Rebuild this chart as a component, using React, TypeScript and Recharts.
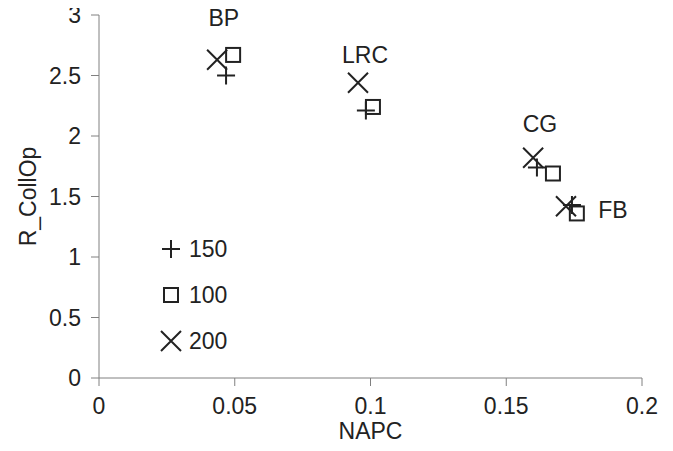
import { ScatterChart, Scatter, XAxis, YAxis } from "recharts";

const xTicks = [0, 0.05, 0.1, 0.15, 0.2];
const yTicks = [0, 0.5, 1, 1.5, 2, 2.5, 3];

// NAPC, R_CollOp per site (BP, LRC, CG, FB)
const s150 = [
  { x: 0.0468, y: 2.5 },
  { x: 0.0983, y: 2.21 },
  { x: 0.1613, y: 1.74 },
  { x: 0.1742, y: 1.43 },
];
const s100 = [
  { x: 0.0494, y: 2.67 },
  { x: 0.1009, y: 2.24 },
  { x: 0.1672, y: 1.69 },
  { x: 0.176, y: 1.36 },
];
const s200 = [
  { x: 0.0435, y: 2.63 },
  { x: 0.0954, y: 2.44 },
  { x: 0.1599, y: 1.82 },
  { x: 0.172, y: 1.42 },
];
const siteLabels = [
  { x: 0.046, y: 2.979, name: "BP" },
  { x: 0.098, y: 2.67, name: "LRC" },
  { x: 0.1624, y: 2.1, name: "CG" },
  { x: 0.1893, y: 1.39, name: "FB" },
];

const ink = "#222";
const axisColor = "#808080";
const font = "'Liberation Sans', Arial, sans-serif";
const fs = 23;

function Plus({ cx, cy }: any) {
  return (
    <path d={`M${cx - 9},${cy}H${cx + 9}M${cx},${cy - 9}V${cy + 9}`} stroke={ink} strokeWidth={2} fill="none" />
  );
}
function Square({ cx, cy }: any) {
  return <rect x={cx - 7} y={cy - 7} width={14} height={14} stroke={ink} strokeWidth={2} fill="none" />;
}
function Cross({ cx, cy }: any) {
  return (
    <path
      d={`M${cx - 10},${cy - 10}L${cx + 10},${cy + 10}M${cx - 10},${cy + 10}L${cx + 10},${cy - 10}`}
      stroke={ink}
      strokeWidth={2}
      fill="none"
    />
  );
}
function SiteLabel({ cx, cy, payload }: any) {
  return (
    <text x={cx} y={cy} textAnchor="middle" dominantBaseline="central" fontSize={fs} fill={ink} fontFamily={font}>
      {payload.name}
    </text>
  );
}

const legendRows = [
  { name: "150", Shape: Plus },
  { name: "100", Shape: Square },
  { name: "200", Shape: Cross },
];

function LegendBox() {
  return (
    <div style={{ position: "absolute", left: 159, top: 226, fontFamily: font, fontSize: fs, color: ink }}>
      {legendRows.map((r) => (
        <div key={r.name} style={{ display: "flex", alignItems: "center", height: 46 }}>
          <svg width={24} height={24} style={{ marginRight: 6 }}>
            <r.Shape cx={12} cy={12} />
          </svg>
          <span>{r.name}</span>
        </div>
      ))}
    </div>
  );
}

export default function App() {
  const tick = { fontSize: fs, fill: ink, fontFamily: font };
  // cancel the body margin so the chart covers the whole page
  return (
    <div style={{ position: "relative", width: 673, height: 451, margin: "-8px 0 -8px -8px" }}>
      <ScatterChart width={673} height={451} margin={{ top: 15, right: 31, left: 0, bottom: 0 }}>
        <XAxis
          type="number"
          dataKey="x"
          domain={[0, 0.2]}
          ticks={xTicks}
          tick={tick}
          stroke={axisColor}
          tickSize={8}
          tickMargin={12}
          height={73}
          label={{ value: "NAPC", position: "insideBottom", offset: 12, fontSize: fs, fill: ink, fontFamily: font }}
        />
        <YAxis
          type="number"
          dataKey="y"
          domain={[0, 3]}
          ticks={yTicks}
          tick={tick}
          stroke={axisColor}
          tickSize={8}
          tickMargin={10}
          width={99}
          label={{ value: "R_CollOp", angle: -90, position: "insideLeft", offset: 28, fontSize: fs, fill: ink, fontFamily: font, style: { textAnchor: "middle" } }}
        />
        <Scatter name="150" data={s150} shape={Plus} isAnimationActive={false} />
        <Scatter name="100" data={s100} shape={Square} isAnimationActive={false} />
        <Scatter name="200" data={s200} shape={Cross} isAnimationActive={false} />
        <Scatter data={siteLabels} shape={SiteLabel} isAnimationActive={false} legendType="none" />
      </ScatterChart>
      <LegendBox />
    </div>
  );
}
